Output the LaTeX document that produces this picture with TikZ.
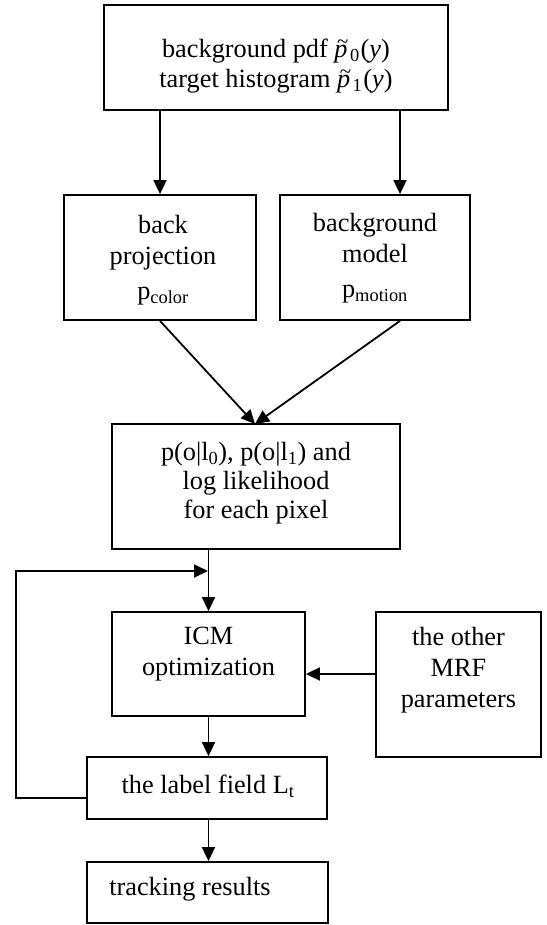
\documentclass[tikz,border=0pt]{standalone}
\usepackage{fontspec}
\usepackage{graphicx}
\setmainfont{Liberation Serif}
\usetikzlibrary{arrows.meta}
% italic p with a small tilde above its bowl
\newcommand{\ptilde}{\textit{p}\kern-0.40em\raisebox{0.34em}[0pt][0pt]{\scalebox{0.8}{\char"7E}}\kern0.02em}
\begin{document}
\begin{tikzpicture}[x=1pt,y=-1pt,
  box/.style={draw, line width=1.8pt, inner sep=0pt, minimum width=#1},
  lbl/.style={align=center, inner sep=0pt, font=\fontsize{26.3}{31}\selectfont},
  flow/.style={line width=1.8pt, -{Triangle[length=14pt,width=13pt]}}]
\useasboundingbox (0,0) rectangle (546,925);

% boxes
\node[box=344, minimum height=105] (top) at (276,57.5) {};
\node[box=192, minimum height=125] (back) at (160,257.5) {};
\node[box=190, minimum height=125] (bgm) at (375,257.5) {};
\node[box=288, minimum height=125] (mid) at (256,486.5) {};
\node[box=193, minimum height=104] (icm) at (208.5,664) {};
\node[box=165, minimum height=145] (mrf) at (458.5,684.5) {};
\node[box=240, minimum height=62] (field) at (207,788) {};
\node[box=241, minimum height=61] (track) at (207.5,892.5) {};

% texts
\node[lbl] (topT) at (276,66) {background pdf \ptilde\kern1pt\textsubscript{0}\kern1pt(\textit{y})\\[-1pt]
  target histogram \ptilde\kern1pt\textsubscript{1}\kern1pt(\textit{y})};
\node[lbl] (backT) at (163,260) {back\\projection\\[4pt]p\textsubscript{color}};
\node[lbl] (bgmT) at (375,258) {background\\model\\[4pt]p\textsubscript{motion}};
\node[lbl] (midT) at (256,483) {p(o|l\textsubscript{0}), p(o|l\textsubscript{1}) and\\[-2pt]log likelihood\\[-2pt]for each pixel};
\node[lbl] (icmT) at (208.5,654) {ICM\\optimization};
\node[lbl] (mrfT) at (458.5,670) {the other\\MRF\\parameters};
\node[lbl] (fieldT) at (208,786) {the label field L\textsubscript{t}};
\node[lbl] (trackT) at (190,889) {tracking results};

% junction points of the connectors
\coordinate (join) at (255,424);
\coordinate (loopIn) at (208,571);

% connectors
\draw[flow] (top.south -| back.center) -- (back.north);
\draw[flow] (top.south -| 400,0) -- (bgm.north -| 400,0);
\draw[flow] (back.south) -- (join);
\draw[flow] (bgm.south -| 400,0) -- (join);
\draw[flow] (mid.south -| icm.center) -- (icm.north);
\draw[flow] (mrf.west |- 0,674) -- (icm.east |- 0,674);
\draw[flow] (icm.south) -- (field.north -| icm.center);
\draw[flow] (field.south -| icm.center) -- (track.north -| icm.center);
\draw[flow] (field.west |- 0,798) -- (16,798) -- (16,571) -- (loopIn);
\end{tikzpicture}
\end{document}
